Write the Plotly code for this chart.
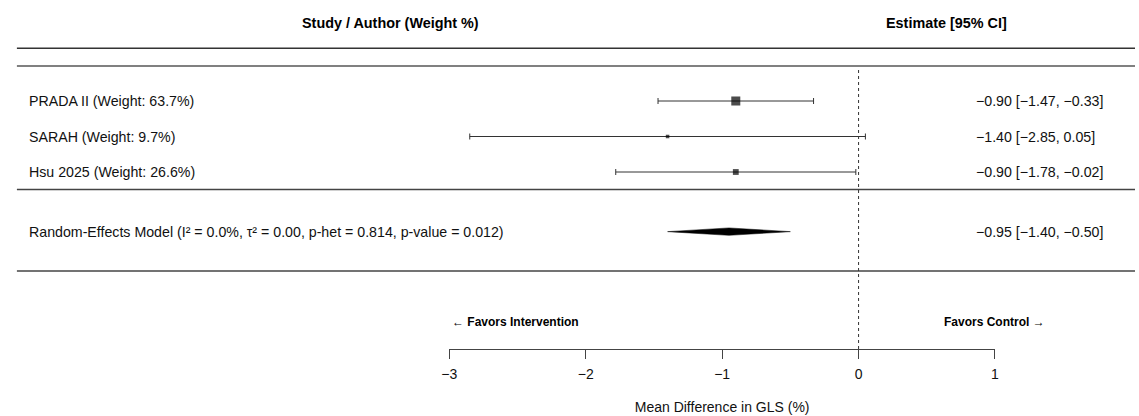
import plotly.graph_objects as go

# ---- data ----
studies = ["PRADA II", "SARAH", "Hsu 2025"]
weights = [63.7, 9.7, 26.6]
estimates = [-0.90, -1.40, -0.90]
ci_low = [-1.47, -2.85, -1.78]
ci_high = [-0.33, 0.05, -0.02]
pooled_est = -0.95
pooled_low = -1.40
pooled_high = -0.50
model_label = "Random-Effects Model (I² = 0.0%, τ² = 0.00, p-het = 0.814, p-value = 0.012)"
x_ticks = [-3, -2, -1, 0, 1]

# ---- layout helpers ----
W, H = 1139, 416
row_y = [1, 2, 3]
pooled_y = 4.68
FONT = "Liberation Sans, Arial, Helvetica, sans-serif"


def fmt(v):
    s = f"{v:.2f}"
    return s.replace("-", "\u2212")


def py(px):  # pixel from top -> paper
    return 1 - px / H


def pxx(px):
    return px / W


fig = go.Figure()

# study whiskers + squares
fig.add_trace(go.Scatter(
    x=estimates, y=row_y, mode="markers",
    marker=dict(symbol="square", color="black",
                size=[1.13 * w ** 0.5 for w in weights], line=dict(width=0)),
    error_x=dict(type="data", symmetric=False,
                 array=[h - e for h, e in zip(ci_high, estimates)],
                 arrayminus=[e - l for e, l in zip(estimates, ci_low)],
                 color="#333333", thickness=1, width=3),
    showlegend=False, hoverinfo="skip",
))

# pooled diamond
dh = 0.105
fig.add_trace(go.Scatter(
    x=[pooled_low, pooled_est, pooled_high, pooled_est, pooled_low],
    y=[pooled_y, pooled_y - dh, pooled_y, pooled_y + dh, pooled_y],
    mode="lines", fill="toself", fillcolor="black",
    line=dict(color="black", width=0.5),
    showlegend=False, hoverinfo="skip",
))

TXT = dict(size=14.2, family=FONT, color="#111111")
annotations = []
# headers
annotations.append(dict(text="<b>Study / Author (Weight %)</b>", x=pxx(387), y=py(23),
                         xref="paper", yref="paper", xanchor="center", yanchor="middle",
                         showarrow=False, font=dict(size=14.4, family=FONT, color="black")))
annotations.append(dict(text="<b>Estimate [95% CI]</b>", x=pxx(948), y=py(23),
                         xref="paper", yref="paper", xanchor="center", yanchor="middle",
                         showarrow=False, font=dict(size=14.4, family=FONT, color="black")))
# row labels and estimates
for name, w, e, lo, hi, y in zip(studies, weights, estimates, ci_low, ci_high, row_y):
    annotations.append(dict(text=f"{name} (Weight: {w:.1f}%)", x=pxx(19), y=y,
                             xref="paper", yref="y", xanchor="left", yanchor="middle",
                             showarrow=False, font=TXT))
    annotations.append(dict(text=f"{fmt(e)} [{fmt(lo)}, {fmt(hi)}]", x=pxx(976.5), y=y,
                             xref="paper", yref="y", xanchor="left", yanchor="middle",
                             showarrow=False, font=TXT))
annotations.append(dict(text=model_label, x=pxx(19), y=pooled_y,
                         xref="paper", yref="y", xanchor="left", yanchor="middle",
                         showarrow=False, font=TXT))
annotations.append(dict(text=f"{fmt(pooled_est)} [{fmt(pooled_low)}, {fmt(pooled_high)}]",
                         x=pxx(976.5), y=pooled_y,
                         xref="paper", yref="y", xanchor="left", yanchor="middle",
                         showarrow=False, font=TXT))
# favors labels
annotations.append(dict(text="<b>\u2190 Favors Intervention</b>", x=pxx(447), y=py(322),
                         xref="paper", yref="paper", xanchor="left", yanchor="middle",
                         showarrow=False, font=dict(size=12, family=FONT, color="black")))
annotations.append(dict(text="<b>Favors Control \u2192</b>", x=pxx(1050), y=py(322),
                         xref="paper", yref="paper", xanchor="right", yanchor="middle",
                         showarrow=False, font=dict(size=12, family=FONT, color="black")))

shapes = [
    dict(type="line", xref="paper", yref="paper", x0=pxx(9), x1=1, y0=py(48.3), y1=py(48.3),
         line=dict(color="#333333", width=1.5)),
    dict(type="line", xref="paper", yref="paper", x0=pxx(9), x1=1, y0=py(66), y1=py(66),
         line=dict(color="#808080", width=2)),
    dict(type="line", xref="paper", yref="paper", x0=pxx(9), x1=1, y0=py(189.5), y1=py(189.5),
         line=dict(color="#444444", width=1.5)),
    dict(type="line", xref="paper", yref="paper", x0=pxx(9), x1=1, y0=py(271), y1=py(271),
         line=dict(color="#444444", width=1.5)),
    dict(type="line", xref="x", yref="paper", x0=0, x1=0, y0=py(349), y1=py(68),
         line=dict(color="#333333", width=1, dash="dot")),
]

fig.update_layout(
    width=W, height=H, autosize=False,
    margin=dict(l=0, r=0, t=0, b=0),
    paper_bgcolor="white", plot_bgcolor="white",
    showlegend=False,
    annotations=annotations, shapes=shapes,
    xaxis=dict(domain=[pxx(446), pxx(997.5)], range=[-3, 1], anchor="free", position=py(349),
               showline=True, linecolor="#444444", linewidth=1.2,
               ticks="outside", ticklen=9, tickcolor="#444444", tickwidth=1.2,
               ticklabelstandoff=3,
               tickvals=x_ticks, showgrid=False, zeroline=False,
               tickfont=dict(size=14, family=FONT, color="#111111"),
               title=dict(text="Mean Difference in GLS (%)", standoff=21,
                          font=dict(size=14, family=FONT, color="#111111"))),
    yaxis=dict(domain=[0, 1], range=[1 + (H - 101) / 35.5, 1 - 101 / 35.5], visible=False),
)

fig.write_html("out.html", config={"displayModeBar": False},
               post_script="document.body.style.margin='0';document.body.style.overflow='hidden';")
